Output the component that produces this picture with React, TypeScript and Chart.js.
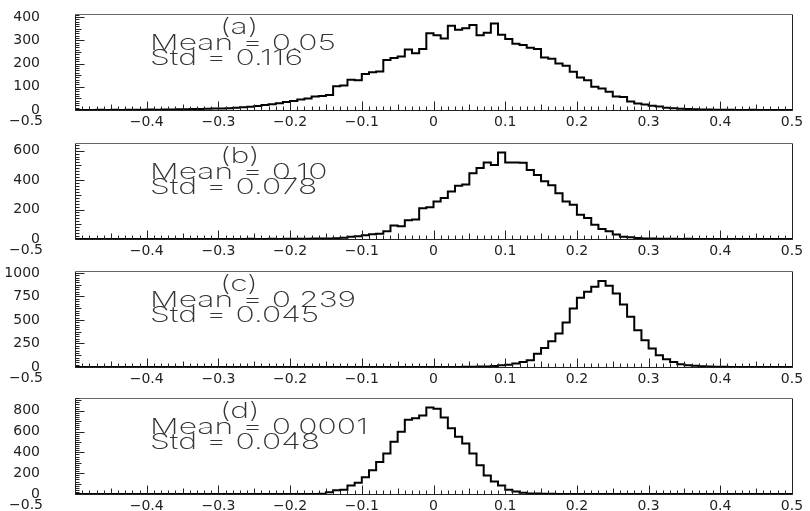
import { useEffect, useRef } from 'react';
import { Chart, registerables } from 'chart.js';

Chart.register(...registerables);

// Histogram bins: 100 bins of width 0.01 from -0.5 to 0.5 (low edges)
const binLowEdges: number[] = Array.from({ length: 100 }, (_, i) => Math.round((-0.5 + i * 0.01) * 100) / 100);
const upperEdge = 0.5;

const countsA = [
  0, 0, 0, 0, 1, 0, 1, 0, 1, 1,
  1, 2, 1, 2, 2, 3, 3, 4, 4, 5,
  6, 6, 8, 10, 12, 14, 17, 21, 25, 29,
  34, 39, 45, 50, 58, 60, 64, 102, 105, 130,
  128, 155, 162, 166, 215, 224, 230, 260, 244, 262,
  330, 322, 308, 362, 345, 352, 366, 322, 332, 372,
  324, 305, 285, 280, 268, 262, 226, 220, 200, 190,
  165, 140, 128, 100, 92, 78, 58, 56, 37, 28,
  24, 18, 15, 10, 7, 5, 4, 3, 2, 2,
  1, 1, 1, 0, 0, 1, 0, 0, 0, 0,
];

const countsB = [
  0, 0, 0, 0, 0, 0, 0, 0, 0, 0,
  0, 0, 0, 0, 0, 0, 0, 0, 0, 0,
  0, 0, 0, 0, 0, 1, 0, 0, 1, 0,
  1, 1, 2, 2, 3, 3, 4, 5, 8, 15,
  18, 25, 32, 36, 52, 92, 86, 128, 133, 208,
  215, 255, 278, 322, 362, 370, 447, 482, 520, 503,
  588, 520, 520, 518, 469, 435, 392, 365, 311, 255,
  232, 165, 142, 97, 68, 52, 30, 16, 12, 6,
  4, 3, 2, 1, 1, 0, 1, 0, 0, 0,
  0, 0, 0, 0, 0, 0, 0, 0, 0, 0,
];

const countsC = [
  0, 0, 0, 0, 0, 0, 0, 0, 0, 0,
  0, 0, 0, 0, 0, 0, 0, 0, 0, 0,
  0, 0, 0, 0, 0, 0, 0, 0, 0, 0,
  0, 0, 0, 0, 0, 0, 0, 0, 0, 0,
  0, 0, 0, 0, 0, 0, 0, 0, 0, 0,
  0, 0, 0, 1, 1, 2, 3, 4, 6, 10,
  18, 25, 36, 53, 71, 142, 203, 274, 356, 473,
  623, 737, 801, 854, 914, 864, 783, 665, 534, 392,
  285, 196, 125, 82, 53, 28, 18, 14, 7, 5,
  3, 2, 1, 1, 0, 0, 0, 0, 0, 0,
];

const countsD = [
  0, 0, 0, 0, 0, 0, 0, 0, 0, 0,
  0, 0, 0, 0, 0, 0, 0, 0, 0, 0,
  0, 0, 0, 0, 0, 0, 0, 0, 0, 0,
  0, 0, 0, 1, 1, 3, 16, 35, 40, 81,
  107, 162, 227, 307, 388, 502, 599, 712, 728, 754,
  831, 818, 735, 631, 550, 485, 388, 275, 178, 120,
  81, 42, 25, 12, 6, 4, 3, 2, 1, 1,
  0, 0, 0, 0, 0, 0, 0, 0, 0, 0,
  0, 0, 0, 0, 0, 0, 0, 0, 0, 0,
  0, 0, 0, 0, 0, 0, 0, 0, 0, 0,
];

const xTicks = [-0.5, -0.4, -0.3, -0.2, -0.1, 0, 0.1, 0.2, 0.3, 0.4, 0.5];
const yTicksA = [0, 100, 200, 300, 400];
const yTicksB = [0, 200, 400, 600];
const yTicksC = [0, 250, 500, 750, 1000];
const yTicksD = [0, 200, 400, 600, 800];

const panelLabels = ['(a)', '(b)', '(c)', '(d)'];
const meanTexts = ['0.05', '0.10', '0.239', '0.0001'];
const stdTexts = ['0.116', '0.078', '0.045', '0.048'];
const yMaxes = [413, 652, 1021, 922];

// layout constants
const W = 810;
const FRAME_LEFT = 75;
const FRAME_RIGHT = 792;
const FRAME_H = 96;
const PAD_TOP = 14;
const AXIS_H = 22;
const CANVAS_H = PAD_TOP + FRAME_H + AXIS_H;
const frameTops = [14, 143, 271, 398];

const FONT = '"DejaVu Sans", "Liberation Sans", sans-serif';
const THIN_FONT = 'Inter, "DejaVu Sans", sans-serif';

interface PanelCfg {
  counts: number[];
  yTicks: number[];
  yMax: number;
  label: string;
  mean: string;
  std: string;
  top: number;
}

const panels: PanelCfg[] = [
  { counts: countsA, yTicks: yTicksA, yMax: yMaxes[0], label: panelLabels[0], mean: meanTexts[0], std: stdTexts[0], top: frameTops[0] },
  { counts: countsB, yTicks: yTicksB, yMax: yMaxes[1], label: panelLabels[1], mean: meanTexts[1], std: stdTexts[1], top: frameTops[1] },
  { counts: countsC, yTicks: yTicksC, yMax: yMaxes[2], label: panelLabels[2], mean: meanTexts[2], std: stdTexts[2], top: frameTops[2] },
  { counts: countsD, yTicks: yTicksD, yMax: yMaxes[3], label: panelLabels[3], mean: meanTexts[3], std: stdTexts[3], top: frameTops[3] },
];

function fmtX(v: number): string {
  const r = Math.round(v * 10) / 10;
  if (r === 0) return '0';
  return (r < 0 ? '\u2212' : '') + Math.abs(r).toFixed(1);
}

function Panel({ cfg }: { cfg: PanelCfg }) {
  const ref = useRef<HTMLCanvasElement | null>(null);
  useEffect(() => {
    const canvas = ref.current;
    if (!canvas) return;
    const points = cfg.counts.map((c, i) => ({ x: binLowEdges[i], y: c }));
    points.push({ x: upperEdge, y: cfg.counts[cfg.counts.length - 1] });
    const majorStep = cfg.yTicks[1] - cfg.yTicks[0];
    const minorStep = majorStep / 10;

    const decor = {
      id: 'decor',
      afterDraw(chart: any) {
        const { ctx, chartArea: ca, scales } = chart;
        const xs = scales.x;
        const ys = scales.y;
        ctx.save();
        const L = Math.round(ca.left) + 0.5;
        const R = Math.round(ca.right) + 0.5;
        const T = Math.round(ca.top) + 0.5;
        const B = Math.round(ca.bottom) + 0.5;
        // frame
        ctx.lineWidth = 1;
        ctx.strokeStyle = '#222';
        ctx.beginPath();
        ctx.moveTo(L, T);
        ctx.lineTo(L, B);
        ctx.lineTo(R, B);
        ctx.lineTo(R, T);
        ctx.stroke();
        ctx.strokeStyle = '#666';
        ctx.beginPath();
        ctx.moveTo(L, T);
        ctx.lineTo(R, T);
        ctx.stroke();
        // x ticks (inside, upwards)
        ctx.strokeStyle = '#222';
        ctx.beginPath();
        for (let k = 0; k <= 100; k++) {
          const v = -0.5 + k * 0.01;
          const px = Math.round(xs.getPixelForValue(v)) + 0.5;
          const len = k % 10 === 0 ? 9 : k % 5 === 0 ? 6 : 4;
          ctx.moveTo(px, B);
          ctx.lineTo(px, B - len);
        }
        ctx.stroke();
        // y ticks (inside, rightwards)
        ctx.beginPath();
        for (let k = 0; k * minorStep <= cfg.yMax; k++) {
          const v = k * minorStep;
          const py = Math.round(ys.getPixelForValue(v)) + 0.5;
          const len = k % 10 === 0 ? 9 : k % 5 === 0 ? 6 : 4;
          ctx.moveTo(L, py);
          ctx.lineTo(L + len, py);
        }
        ctx.stroke();
        // first x label (shifted left as in the reference)
        ctx.fillStyle = '#222';
        ctx.font = `14px ${FONT}`;
        ctx.textAlign = 'center';
        ctx.textBaseline = 'top';
        ctx.fillText(fmtX(-0.5), 26, ca.bottom + 4);
        // annotations
        ctx.fillStyle = '#333';
        ctx.font = `200 22px ${THIN_FONT}`;
        ctx.textAlign = 'left';
        ctx.textBaseline = 'alphabetic';
        const sx = 1.45;
        const drawWide = (t: string, x: number, y: number) => {
          ctx.save();
          ctx.translate(x, y);
          ctx.scale(sx, 1);
          ctx.fillText(t, 0, 0);
          ctx.restore();
        };
        drawWide(cfg.label, 220, ca.top + 20);
        drawWide('Mean = ' + cfg.mean, 150, ca.top + 36);
        drawWide('Std = ' + cfg.std, 150, ca.top + 51);
        ctx.restore();
      },
    };

    const chart = new Chart(canvas, {
      type: 'line',
      data: {
        datasets: [
          {
            data: points,
            stepped: 'after',
            borderColor: '#000',
            borderWidth: 2,
            pointRadius: 0,
            fill: false,
            tension: 0,
          },
        ],
      },
      options: {
        animation: false,
        responsive: false,
        maintainAspectRatio: false,
        layout: { padding: { top: PAD_TOP, right: W - FRAME_RIGHT, left: 0, bottom: 0 } },
        plugins: { legend: { display: false }, tooltip: { enabled: false } },
        scales: {
          x: {
            type: 'linear',
            min: -0.5,
            max: 0.5,
            grid: { display: false, drawTicks: false },
            border: { display: false },
            ticks: {
              autoSkip: false,
              maxRotation: 0,
              padding: 4,
              color: '#222',
              font: { family: FONT, size: 14 },
              callback: (v: any) => (Math.abs(Number(v) + 0.5) < 1e-6 ? '' : fmtX(Number(v))),
            },
            afterBuildTicks: (s: any) => {
              s.ticks = xTicks.map((v) => ({ value: v }));
            },
            afterFit: (s: any) => {
              s.height = AXIS_H;
              s.paddingLeft = 0;
              s.paddingRight = 0;
              s.paddingTop = 0;
              s.paddingBottom = 0;
            },
          },
          y: {
            type: 'linear',
            min: 0,
            max: cfg.yMax,
            grid: { display: false, drawTicks: false },
            border: { display: false },
            ticks: {
              autoSkip: false,
              padding: 35,
              color: '#222',
              font: { family: FONT, size: 14 },
              callback: (v: any) => String(v),
            },
            afterBuildTicks: (s: any) => {
              s.ticks = cfg.yTicks.map((v) => ({ value: v }));
            },
            afterFit: (s: any) => {
              s.width = FRAME_LEFT;
              s.paddingLeft = 0;
              s.paddingRight = 0;
              s.paddingTop = 0;
              s.paddingBottom = 0;
            },
          },
        },
      },
      plugins: [decor],
    } as any);
    return () => chart.destroy();
  }, [cfg]);

  return (
    <canvas
      ref={ref}
      width={W}
      height={CANVAS_H}
      style={{ position: 'absolute', left: 0, top: cfg.top - PAD_TOP, width: W, height: CANVAS_H }}
    />
  );
}

export default function App() {
  return (
    <div
      style={{
        position: 'fixed',
        left: 0,
        top: 0,
        width: W,
        height: 511,
        overflow: 'hidden',
        background: '#fff',
      }}
    >
      {panels.map((p, i) => (
        <Panel key={i} cfg={p} />
      ))}
    </div>
  );
}
